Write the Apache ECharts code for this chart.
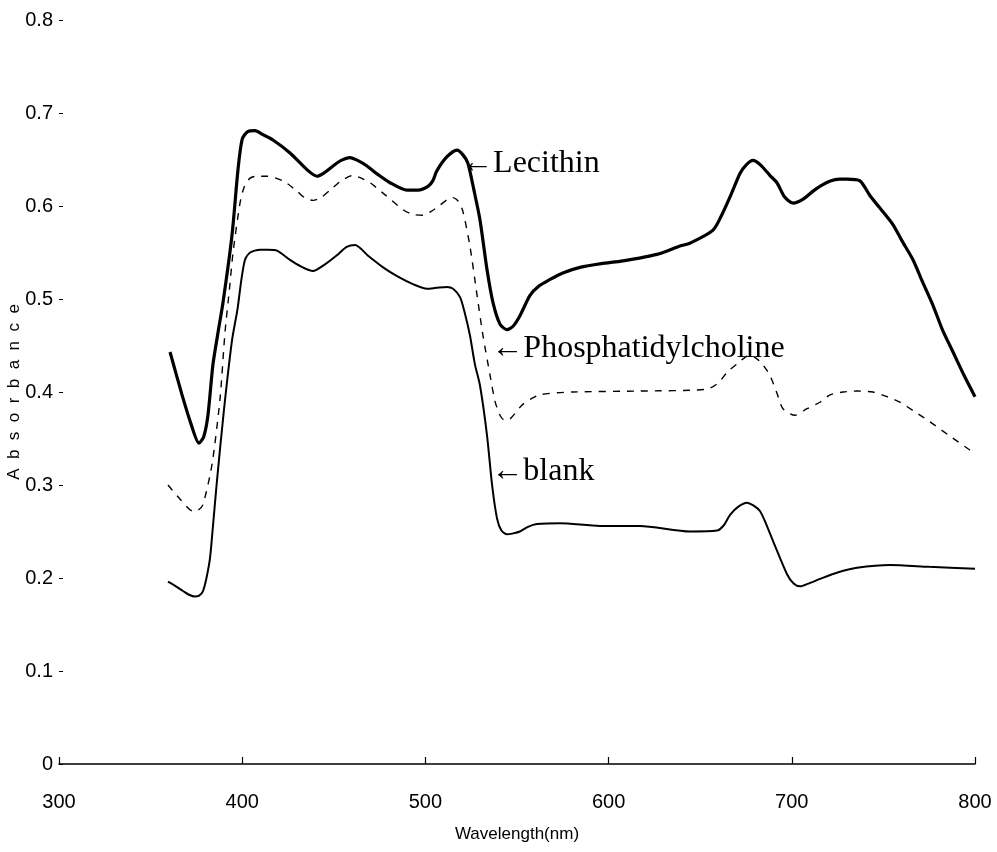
<!DOCTYPE html>
<html>
<head>
<meta charset="utf-8">
<title>Absorbance spectra</title>
<script src="https://cdn.jsdelivr.net/npm/echarts@6/dist/echarts.min.js"></script>
<style>
  html, body { margin: 0; padding: 0; background: #fff; }
  #chart { width: 997px; height: 852px; }
</style>
</head>
<body>
<div id="chart"></div>
<script>
// wavelength (nm) / absorbance pairs
var lecithinWl = [360.6, 367, 372, 376.4, 379, 381.3, 384, 386.8, 389.5, 394.4, 397.7, 400, 403, 407, 411, 416.8, 426.1, 435.4, 440.8, 445, 449.6, 454, 458.8, 463, 468.1, 474, 480.7, 490, 496, 501.4, 504, 506.3, 511.8, 517.2, 520.5, 523.2, 526.5, 529.8, 533.6, 536.9, 540.7, 544.5, 548, 551.6, 557.1, 562, 568, 575, 584.4, 596, 607.9, 626.4, 639, 644.4, 657, 662.4, 667, 671.7, 675, 678.8, 683, 688, 691.9, 696, 700.7, 706, 711.6, 716, 721, 726, 730.1, 737.2, 742.7, 748, 755.2, 760, 766.2, 771, 777.1, 782, 788, 794, 800];
var lecithinAbs = [0.443, 0.398, 0.366, 0.345, 0.352, 0.375, 0.429, 0.464, 0.496, 0.568, 0.639, 0.672, 0.680, 0.681, 0.677, 0.671, 0.657, 0.639, 0.632, 0.636, 0.643, 0.649, 0.652, 0.649, 0.643, 0.634, 0.625, 0.617, 0.617, 0.621, 0.627, 0.638, 0.653, 0.660, 0.655, 0.646, 0.617, 0.585, 0.532, 0.496, 0.473, 0.467, 0.471, 0.482, 0.504, 0.514, 0.521, 0.528, 0.534, 0.538, 0.541, 0.548, 0.557, 0.560, 0.574, 0.593, 0.613, 0.635, 0.644, 0.649, 0.644, 0.633, 0.625, 0.610, 0.603, 0.607, 0.616, 0.622, 0.627, 0.629, 0.629, 0.627, 0.611, 0.598, 0.580, 0.563, 0.542, 0.520, 0.493, 0.468, 0.443, 0.418, 0.395];

var pcWl = [359.5, 366, 373.1, 376, 378.6, 383.5, 387.9, 390.6, 393, 395, 398.8, 401, 404.3, 408, 413.5, 422.3, 429.9, 434, 438.6, 443, 447.9, 454, 460.5, 465, 469.8, 478, 487.8, 493, 498.7, 503, 508, 512, 515.1, 518, 520.5, 524.3, 528.2, 531.4, 535.3, 538, 540.7, 543, 546.2, 553.3, 562.6, 580.6, 617.1, 653.7, 660, 664.6, 670, 677.2, 683, 688, 692, 695.2, 701.7, 708.3, 715.4, 720.9, 728, 735.6, 744.3, 752, 759, 767, 775.4, 786, 796.2, 798.4];
var pcAbs = [0.300, 0.285, 0.272, 0.273, 0.279, 0.322, 0.393, 0.464, 0.510, 0.550, 0.603, 0.620, 0.630, 0.632, 0.632, 0.627, 0.616, 0.609, 0.606, 0.609, 0.617, 0.627, 0.633, 0.630, 0.625, 0.612, 0.596, 0.591, 0.590, 0.594, 0.601, 0.607, 0.609, 0.605, 0.594, 0.557, 0.504, 0.461, 0.418, 0.390, 0.375, 0.370, 0.371, 0.387, 0.397, 0.400, 0.401, 0.403, 0.410, 0.421, 0.430, 0.440, 0.432, 0.418, 0.398, 0.382, 0.375, 0.382, 0.389, 0.397, 0.400, 0.401, 0.400, 0.395, 0.389, 0.379, 0.368, 0.353, 0.339, 0.336];

var blankWl = [359.5, 363, 367.7, 371, 374.2, 376.5, 378.6, 380.5, 382.4, 384, 386.2, 390, 394.4, 397.5, 399.5, 401.5, 404.3, 409.7, 414, 419, 426.1, 432, 438.6, 445, 451.7, 457, 461.6, 469, 476.9, 485, 493.2, 500.9, 506, 511.8, 515.1, 518.9, 521.5, 524.3, 527, 529.8, 533.6, 536.4, 539.1, 541.5, 544.5, 548, 551.6, 556, 560.9, 573.5, 595.3, 617.1, 644.4, 659.2, 663, 666.3, 671, 675.5, 679, 682.6, 686, 689.7, 697.4, 701, 704.5, 709, 715.4, 725, 735.6, 753.6, 775, 800];
var blankAbs = [0.196, 0.192, 0.186, 0.182, 0.180, 0.181, 0.186, 0.200, 0.221, 0.255, 0.304, 0.380, 0.455, 0.490, 0.520, 0.542, 0.550, 0.553, 0.553, 0.552, 0.542, 0.535, 0.530, 0.537, 0.547, 0.556, 0.558, 0.546, 0.534, 0.524, 0.516, 0.511, 0.512, 0.513, 0.511, 0.502, 0.485, 0.461, 0.430, 0.407, 0.354, 0.300, 0.264, 0.251, 0.247, 0.248, 0.250, 0.255, 0.258, 0.259, 0.256, 0.256, 0.250, 0.251, 0.257, 0.268, 0.277, 0.281, 0.278, 0.272, 0.258, 0.240, 0.204, 0.194, 0.191, 0.194, 0.199, 0.206, 0.211, 0.214, 0.212, 0.210];

var xTicks = [300, 400, 500, 600, 700, 800];
var yTicks = [0, 0.1, 0.2, 0.3, 0.4, 0.5, 0.6, 0.7, 0.8];

// curve labels: text and the data point where the arrow tip sits
var notes = [
    { text: '\u2190Lecithin', wl: 519.5, abs: 0.646 },
    { text: '\u2190Phosphatidylcholine', wl: 536.0, abs: 0.447 },
    { text: '\u2190blank', wl: 536.0, abs: 0.3145 }
];

function pairs(xs, ys) {
    return xs.map(function (x, i) { return [x, ys[i]]; });
}

var chart = echarts.init(document.getElementById('chart'));
var axisFont = "'Liberation Sans Narrow', 'Liberation Sans', Arial, sans-serif";

var option = {
    animation: false,
    backgroundColor: '#fff',
    grid: { left: 59, right: 22, top: 20, bottom: 88, containLabel: false, outerBoundsMode: 'none' },
    xAxis: {
        type: 'value',
        min: xTicks[0],
        max: xTicks[xTicks.length - 1],
        interval: 100,
        name: 'Wavelength(nm)',
        nameLocation: 'middle',
        nameGap: 62,
        nameTextStyle: { fontFamily: axisFont, fontSize: 17, color: '#000' },
        axisLine: { lineStyle: { color: '#000', width: 1.5 } },
        axisTick: { inside: true, length: 7, lineStyle: { color: '#000', width: 1.2 } },
        axisLabel: { fontFamily: axisFont, fontSize: 20, color: '#000', margin: 28 },
        splitLine: { show: false }
    },
    yAxis: {
        type: 'value',
        min: yTicks[0],
        max: yTicks[yTicks.length - 1],
        interval: 0.1,
        name: 'A  b  s  o  r  b  a  n  c  e',
        nameLocation: 'middle',
        nameGap: 36,
        nameMoveOverlap: false,
        nameTextStyle: { fontFamily: axisFont, fontSize: 17, color: '#000' },
        axisLine: { show: false },
        axisTick: { inside: true, length: 4, lineStyle: { color: '#000', width: 1 } },
        axisLabel: {
            fontFamily: axisFont, fontSize: 20, color: '#000', margin: 6,
            formatter: function (v) { return v === 0 ? '0' : v.toFixed(1); }
        },
        splitLine: { show: false }
    },
    series: [
        {
            name: 'Lecithin', type: 'line', showSymbol: false, smooth: 0.25,
            data: pairs(lecithinWl, lecithinAbs),
            lineStyle: { color: '#000', width: 3.2 }
        },
        {
            name: 'Phosphatidylcholine', type: 'line', showSymbol: false, smooth: 0.25,
            data: pairs(pcWl, pcAbs),
            lineStyle: { color: '#000', width: 1.4, type: [7, 7] }
        },
        {
            name: 'blank', type: 'line', showSymbol: false, smooth: 0.25,
            data: pairs(blankWl, blankAbs),
            lineStyle: { color: '#000', width: 2 }
        }
    ]
};
chart.setOption(option);

// place the curve labels from data coordinates
chart.setOption({
    graphic: notes.map(function (n) {
        var p = chart.convertToPixel({ gridIndex: 0 }, [n.wl, n.abs]);
        return {
            type: 'text',
            x: p[0],
            y: p[1],
            style: {
                text: n.text,
                font: "32px 'Liberation Serif', 'Times New Roman', serif",
                fill: '#000',
                align: 'left',
                verticalAlign: 'middle'
            }
        };
    })
});
</script>
</body>
</html>
